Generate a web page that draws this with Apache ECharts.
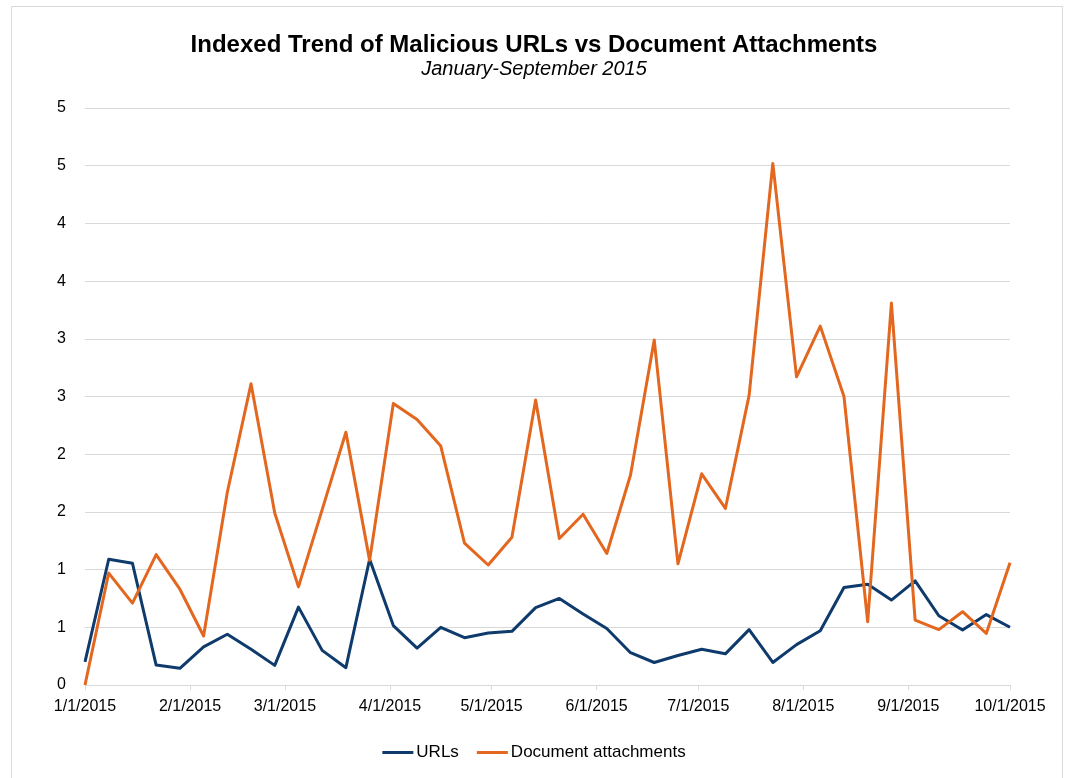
<!DOCTYPE html>
<html>
<head>
<meta charset="utf-8">
<script src="https://cdn.jsdelivr.net/npm/echarts@6/dist/echarts.min.js"></script>
<style>
html,body{margin:0;padding:0;background:#fff;}
#chart{width:1068px;height:778px;}
</style>
</head>
<body>
<div id="chart"></div>
<script>
const dates = [
  '2015-01-01','2015-01-08','2015-01-15','2015-01-22','2015-01-29',
  '2015-02-05','2015-02-12','2015-02-19','2015-02-26',
  '2015-03-05','2015-03-12','2015-03-19','2015-03-26',
  '2015-04-02','2015-04-09','2015-04-16','2015-04-23','2015-04-30',
  '2015-05-07','2015-05-14','2015-05-21','2015-05-28',
  '2015-06-04','2015-06-11','2015-06-18','2015-06-25',
  '2015-07-02','2015-07-09','2015-07-16','2015-07-23','2015-07-30',
  '2015-08-06','2015-08-13','2015-08-20','2015-08-27',
  '2015-09-03','2015-09-10','2015-09-17','2015-09-24',
  '2015-10-01'
];
const urls = [
  0.20, 1.09, 1.055, 0.173, 0.145, 0.33, 0.44, 0.31, 0.17, 0.675,
  0.30, 0.15, 1.09, 0.515, 0.32, 0.50, 0.41, 0.45, 0.465, 0.67,
  0.75, 0.615, 0.49, 0.28, 0.195, 0.256, 0.31, 0.27, 0.48, 0.195,
  0.35, 0.47, 0.845, 0.874, 0.736, 0.903, 0.60, 0.476, 0.61, 0.50
];
const docs = [
  0.00, 0.97, 0.71, 1.13, 0.83, 0.425, 1.67, 2.61, 1.49, 0.85,
  1.52, 2.19, 1.08, 2.44, 2.30, 2.07, 1.23, 1.04, 1.28, 2.47,
  1.27, 1.48, 1.14, 1.82, 2.99, 1.05, 1.83, 1.53, 2.51, 4.52,
  2.67, 3.11, 2.50, 0.548, 3.31, 0.563, 0.48, 0.635, 0.447, 1.06
];
const monthTicks = [
  '2015-01-01','2015-02-01','2015-03-01','2015-04-01','2015-05-01',
  '2015-06-01','2015-07-01','2015-08-01','2015-09-01','2015-10-01'
];
const yTickLabels = ['0','1','1','2','2','3','3','4','4','5','5'];

const FONT = "'Liberation Sans', Arial, Helvetica, sans-serif";
function ts(s){ const p = s.split('-').map(Number); return Date.UTC(p[0], p[1]-1, p[2]); }
function fmt(v){ const d = new Date(v); return (d.getUTCMonth()+1) + '/' + d.getUTCDate() + '/' + d.getUTCFullYear(); }
const tickTs = monthTicks.map(ts);

const chart = echarts.init(document.getElementById('chart'), null, {renderer:'canvas'});
chart.setOption({
  animation: false,
  backgroundColor: '#fff',
  textStyle: { fontFamily: FONT },
  graphic: [{
    type: 'rect', silent: true, z: -1,
    shape: { x: 11.5, y: 6.5, width: 1051, height: 830 },
    style: { fill: 'none', stroke: '#d9d9d9', lineWidth: 1 }
  }],
  title: {
    text: 'Indexed Trend of Malicious URLs vs Document Attachments',
    subtext: 'January-September 2015',
    left: 'center', top: 28, itemGap: 2,
    textStyle: { fontFamily: FONT, fontSize: 24, fontWeight: 'bold', color: '#000' },
    subtextStyle: { fontFamily: FONT, fontSize: 20, fontStyle: 'italic', color: '#000' }
  },
  legend: {
    bottom: 12, left: 'center',
    icon: 'rect', itemWidth: 31, itemHeight: 3, itemGap: 18,
    textStyle: { fontFamily: FONT, fontSize: 17, color: '#000', padding: [0,0,0,-2] },
    data: ['URLs', 'Document attachments']
  },
  grid: { left: 85, right: 58, top: 108, bottom: 93, containLabel: false },
  xAxis: {
    type: 'value',
    min: ts(dates[0]), max: ts(dates[dates.length-1]),
    splitLine: { show: false },
    axisLine: { show: true, lineStyle: { color: '#d9d9d9', width: 1 } },
    axisTick: { show: true, customValues: tickTs, length: 5, lineStyle: { color: '#d9d9d9' } },
    axisLabel: { customValues: tickTs, formatter: fmt, fontSize: 16, color: '#000', margin: 14, fontFamily: FONT, hideOverlap: false }
  },
  yAxis: {
    type: 'value', min: 0, max: 5, interval: 0.5,
    axisLine: { show: false }, axisTick: { show: false },
    splitLine: { lineStyle: { color: '#d9d9d9', width: 1 } },
    axisLabel: { formatter: (v, i) => yTickLabels[i], fontSize: 16, color: '#000', margin: 19, fontFamily: FONT }
  },
  series: [
    {
      name: 'URLs', type: 'line', symbol: 'none',
      data: dates.map((d, i) => [ts(d), urls[i]]),
      lineStyle: { color: '#0e3a6c', width: 3, join: 'round' },
      itemStyle: { color: '#0e3a6c' }
    },
    {
      name: 'Document attachments', type: 'line', symbol: 'none',
      data: dates.map((d, i) => [ts(d), docs[i]]),
      lineStyle: { color: '#e3671f', width: 3, join: 'round' },
      itemStyle: { color: '#e3671f' }
    }
  ]
});
</script>
</body>
</html>
